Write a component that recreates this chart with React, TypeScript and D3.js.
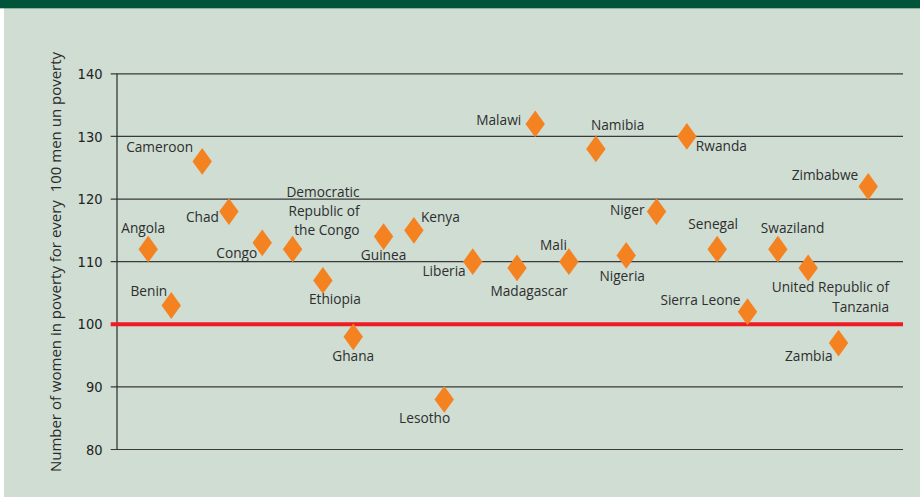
import React from "react";
import * as d3 from "d3";

const countries = [
  "Angola", "Benin", "Cameroon", "Chad", "Congo", "Democratic Republic of the Congo",
  "Ethiopia", "Ghana", "Guinea", "Kenya", "Lesotho", "Liberia", "Madagascar", "Malawi",
  "Mali", "Namibia", "Nigeria", "Niger", "Rwanda", "Senegal", "Sierra Leone", "Swaziland",
  "United Republic of Tanzania", "Zambia", "Zimbabwe",
];
const xPositions = [
  1.24, 2.0, 3.02, 3.9, 5, 6, 7, 8, 9, 10, 11, 11.94, 13.4, 14.0, 15.11, 16, 17, 18, 19, 20,
  21, 22, 23, 24, 24.98,
];
const ratios = [
  112, 103, 126, 118, 113, 112, 107, 98, 114, 115, 88, 110, 109, 132, 110, 128, 111, 118,
  130, 112, 102, 112, 109, 97, 122,
];
const yTicks = [80, 90, 100, 110, 120, 130, 140];
const referenceValue = 100;
const yTitle = "Number of women in poverty for every  100 men un poverty";

// label layout (lines, anchor, dx, dy per line) relative to the marker
type LabelLayout = { lines: string[]; anchor: "start" | "middle" | "end"; dx: number; dy: number[] };
const labelLayout: LabelLayout[] = [
  { lines: ["Angola"], anchor: "middle", dx: -5, dy: [-16] },
  { lines: ["Benin"], anchor: "end", dx: -4, dy: [-9] },
  { lines: ["Cameroon"], anchor: "end", dx: -9, dy: [-9] },
  { lines: ["Chad"], anchor: "end", dx: -10, dy: [10] },
  { lines: ["Congo"], anchor: "end", dx: -5, dy: [15] },
  { lines: ["Democratic", "Republic of", "the Congo"], anchor: "end", dx: 67, dy: [-52, -33, -14] },
  { lines: ["Ethiopia"], anchor: "middle", dx: 12, dy: [24] },
  { lines: ["Ghana"], anchor: "middle", dx: 0, dy: [24] },
  { lines: ["Guinea"], anchor: "middle", dx: 0, dy: [23] },
  { lines: ["Kenya"], anchor: "start", dx: 7, dy: [-8] },
  { lines: ["Lesotho"], anchor: "end", dx: 6, dy: [24] },
  { lines: ["Liberia"], anchor: "end", dx: -7, dy: [14] },
  { lines: ["Madagascar"], anchor: "middle", dx: 12, dy: [28] },
  { lines: ["Malawi"], anchor: "end", dx: -14, dy: [1] },
  { lines: ["Mali"], anchor: "end", dx: -2, dy: [-12] },
  { lines: ["Namibia"], anchor: "start", dx: -5, dy: [-19] },
  { lines: ["Nigeria"], anchor: "middle", dx: -4, dy: [26] },
  { lines: ["Niger"], anchor: "end", dx: -12, dy: [3] },
  { lines: ["Rwanda"], anchor: "start", dx: 9, dy: [15] },
  { lines: ["Senegal"], anchor: "middle", dx: -4, dy: [-20] },
  { lines: ["Sierra Leone"], anchor: "end", dx: -7, dy: [-7] },
  { lines: ["Swaziland"], anchor: "start", dx: -17, dy: [-16] },
  { lines: ["United Republic of", "Tanzania"], anchor: "end", dx: 81, dy: [24, 44] },
  { lines: ["Zambia"], anchor: "end", dx: -6, dy: [18] },
  { lines: ["Zimbabwe"], anchor: "end", dx: -10, dy: [-7] },
];

const W = 920;
const H = 498;
const plotLeft = 117;
const plotRight = 903;
const tickLeft = 110.7;

export default function App() {
  const x = d3.scaleLinear().domain([0, 26]).range([110.6, 110.6 + 26 * 30.33]);
  const y = d3.scaleLinear().domain([80, 140]).range([449.5, 73.8]);

  const hw = 9.7;
  const hh = 13.4;
  const diamond = (cx: number, cy: number) => {
    const p = d3.path();
    p.moveTo(cx, cy - hh);
    p.lineTo(cx + hw, cy);
    p.lineTo(cx, cy + hh);
    p.lineTo(cx - hw, cy);
    p.closePath();
    return p.toString();
  };

  const labelFont = "'Open Sans', 'Noto Sans', sans-serif";

  return (
    <svg
      width={W}
      height={H}
      style={{ position: "absolute", left: 0, top: 0, display: "block" }}
    >
      <rect x={0} y={0} width={W} height={H} fill="#ffffff" />
      <rect x={4} y={8} width={W - 4} height={H - 9} fill="#cfddd3" />
      <rect x={0} y={0} width={W} height={8.3} fill="#01533a" />

      {/* grid lines and ticks */}
      {yTicks.map((t) =>
        t === referenceValue ? null : (
          <line
            key={"g" + t}
            x1={tickLeft}
            x2={plotRight}
            y1={y(t)}
            y2={y(t)}
            stroke="#3a3a3a"
            strokeWidth={1.2}
          />
        )
      )}
      <line x1={plotLeft} x2={plotLeft} y1={y(140)} y2={y(80)} stroke="#2a2a2a" strokeWidth={1.2} />
      <line
        x1={tickLeft}
        x2={plotRight}
        y1={y(referenceValue)}
        y2={y(referenceValue)}
        stroke="#ed1c24"
        strokeWidth={4}
      />

      {/* tick labels */}
      {yTicks.map((t) => (
        <text
          key={"t" + t}
          x={102.5}
          y={y(t)}
          dy="0.36em"
          textAnchor="end"
          fontFamily="'Liberation Sans Narrow', 'Arial Narrow', 'DejaVu Sans Condensed', sans-serif"
          fontSize={14.5}
          fill="#222"
        >
          {t}
        </text>
      ))}

      {/* y title */}
      <text
        transform={`translate(61, 262) rotate(-90)`}
        textAnchor="middle"
        fontFamily={labelFont}
        fontSize={15}
        fill="#2a2a2a"
        style={{ whiteSpace: "pre" }}
      >
        {yTitle}
      </text>

      {/* markers */}
      {countries.map((c, i) => (
        <path key={"m" + c} d={diamond(x(xPositions[i]), y(ratios[i]))} fill="#f58220" />
      ))}

      {/* labels */}
      {countries.map((c, i) => {
        const L = labelLayout[i];
        const cx = x(xPositions[i]);
        const cy = y(ratios[i]);
        return (
          <text
            key={"l" + c}
            textAnchor={L.anchor}
            fontFamily={labelFont}
            fontSize={13.7}
            fill="#2e2e2e"
          >
            {L.lines.map((ln, j) => (
              <tspan key={j} x={cx + L.dx} y={cy + L.dy[j]}>
                {ln}
              </tspan>
            ))}
          </text>
        );
      })}
    </svg>
  );
}
